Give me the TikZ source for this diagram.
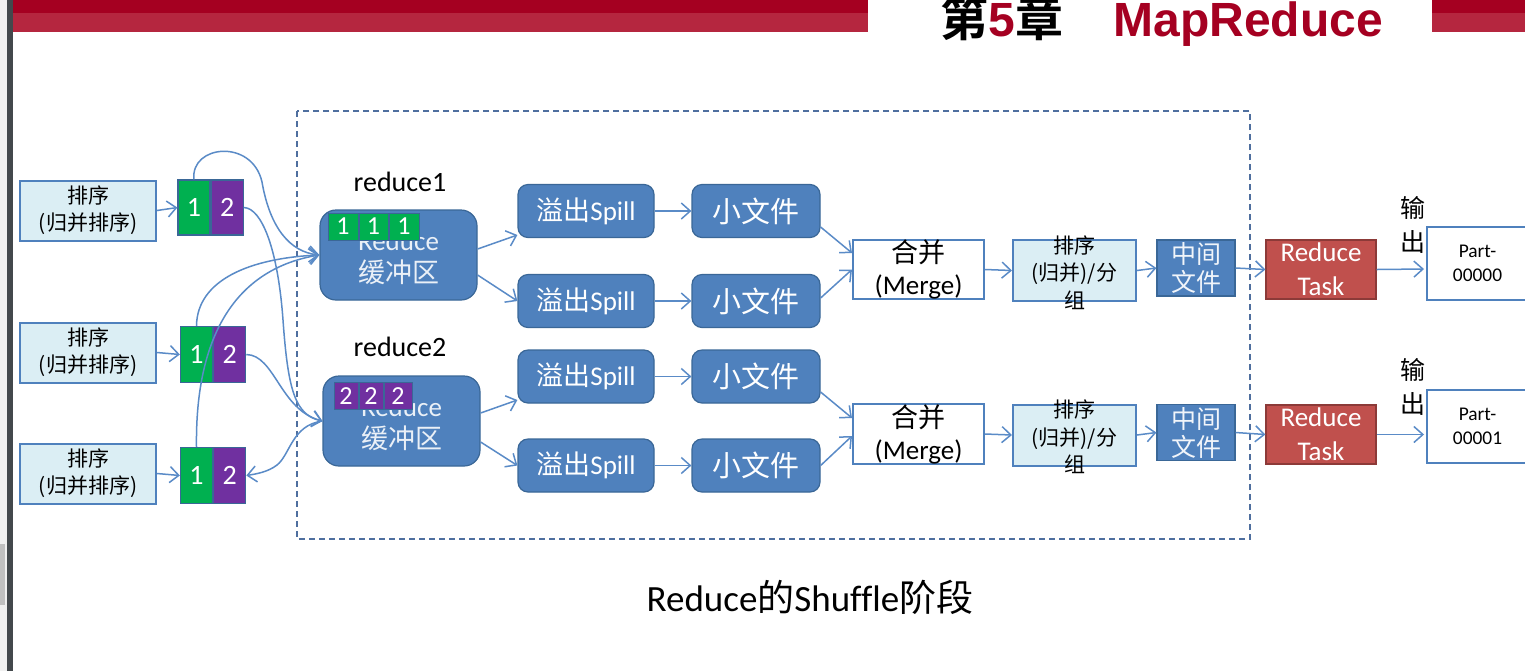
\documentclass[tikz,border=0pt]{standalone}
\usepackage{fontspec}
\setmainfont{Carlito}[Ligatures={NoCommon}]
\newfontfamily\cj{Noto Sans CJK SC}
\newfontfamily\cjb{Noto Sans CJK SC Bold}
\newfontfamily\arialb{Liberation Sans Bold}
\usetikzlibrary{arrows.meta,calc}
\definecolor{dblue}{HTML}{4F81BD}
\definecolor{dbord}{HTML}{3A6797}
\definecolor{lblue}{HTML}{DBEEF4}
\definecolor{arr}{HTML}{5A8BC7}
\definecolor{pgreen}{HTML}{00B050}
\definecolor{ppurple}{HTML}{7030A0}
\definecolor{rtred}{HTML}{C0504D}
\definecolor{rtbord}{HTML}{8C3A38}
\definecolor{bara}{HTML}{A50021}
\definecolor{barb}{HTML}{B5263F}
\definecolor{edgedark}{HTML}{43484C}
\definecolor{edgelight}{HTML}{F0F0F0}
\definecolor{edgegray}{HTML}{C0C0C0}
\definecolor{dashc}{HTML}{4F6F9F}
\tikzset{
  sortbox/.style={draw=dblue, line width=1pt, fill=lblue, minimum width=68pt, minimum height=30pt, inner sep=0pt, align=center, font=\cj\fontsize{10.5}{13.5}\selectfont},
  cell/.style={draw=dbord, line width=0.6pt, minimum width=16pt, minimum height=28pt, inner sep=0pt, text=white, font=\fontsize{14}{16}\selectfont},
  buf/.style={draw=dbord, line width=0.6pt, fill=dblue, rounded corners=8pt, minimum width=78.5pt, minimum height=45pt, inner sep=0pt, align=center, text=white!88!dblue, font=\fontsize{13.5}{16}\selectfont},
  buftext/.style={inner sep=0pt, align=center, text=white!88!dblue, font=\fontsize{13.5}{16}\selectfont},
  mini/.style={draw=dbord, line width=0.5pt, minimum height=13.5pt, inner sep=0pt, text=white, font=\fontsize{13}{14}\selectfont},
  spill/.style={draw=dbord, line width=0.6pt, fill=dblue, rounded corners=5pt, minimum width=68pt, minimum height=26.5pt, inner sep=0pt, text=white, font=\fontsize{13.5}{15}\selectfont},
  sfile/.style={spill, minimum width=64pt, font=\cj\fontsize{14.5}{16}\selectfont},
  mergebox/.style={draw=dblue, line width=1pt, fill=white, minimum width=65.5pt, minimum height=29.5pt, inner sep=0pt, align=center, font=\fontsize{13.5}{16}\selectfont},
  grpbox/.style={draw=dblue, line width=1pt, fill=lblue, minimum width=61.5pt, minimum height=30.5pt, inner sep=0pt},
  grptext/.style={inner sep=0pt, align=center, font=\cj\fontsize{10.5}{13.75}\selectfont},
  midbox/.style={draw=dbord, line width=0.6pt, fill=dblue, minimum width=39pt, minimum height=28pt, inner sep=0pt, align=center, text=white!92!dblue, font=\cj\fontsize{12.5}{14}\selectfont},
  rtask/.style={draw=rtbord, line width=0.6pt, fill=rtred, minimum width=55pt, minimum height=29.5pt, inner sep=0pt, align=center, text=white, font=\fontsize{13.5}{17}\selectfont},
  partbox/.style={draw=dblue, line width=1pt, fill=white, minimum width=50.5pt, minimum height=36.5pt, inner sep=0pt, align=center, font=\fontsize{9.7}{12}\selectfont},
  outlbl/.style={inner sep=0pt, align=center, font=\cj\fontsize{12.5}{17}\selectfont},
  rlabel/.style={inner sep=0pt, font=\fontsize{14}{16}\selectfont},
  conn/.style={draw=arr, line width=0.75pt, -{Straight Barb[length=4.5pt,width=8pt]}}
}
\begin{document}
\begin{tikzpicture}[x=0.5pt,y=-0.5pt]
\useasboundingbox (0,0) rectangle (1525,671);
\fill[white] (0,0) rectangle (1525,671);
% left edge
\fill[edgelight] (0,0) rectangle (7,671);
\fill[edgedark] (7,0) rectangle (13,671);
\fill[edgegray] (0,544) rectangle (5,605);
% top bars
\fill[bara] (13,0) rectangle (868,13);
\fill[barb] (13,13) rectangle (868,32);
\fill[bara] (1432,0) rectangle (1525,13);
\fill[barb] (1432,13) rectangle (1525,32);
% title
\node[anchor=base west, inner sep=0pt, font=\fontsize{24}{26}\selectfont] (title) at (940,36)
  {{\cjb 第}{\color{bara}\arialb 5}{\cjb 章}};
\node[anchor=base west, inner sep=0pt, text=bara, font=\arialb\fontsize{24}{26}\selectfont] (title2) at (1113,36) {MapReduce};
% dashed frame
\draw[dashc, line width=0.75pt, dash pattern=on 3pt off 2pt] (297,111) rectangle (1250,539);
% sort boxes
\node[sortbox] (s1) at (88,210.5) {排序\\(归并排序)};
\node[sortbox] (s2) at (88,352.5) {排序\\(归并排序)};
\node[sortbox] (s3) at (88,473.5) {排序\\(归并排序)};
% partitions
\node[cell, fill=pgreen, minimum height=27.5pt] (p1g) at (194,207.5) {1};
\node[cell, fill=ppurple, minimum height=27.5pt, anchor=west] (p1p) at (p1g.east) {2};
\node[cell, fill=pgreen] (p2g) at (196.5,354.5) {1};
\node[cell, fill=ppurple, anchor=west] (p2p) at (p2g.east) {2};
\node[cell, fill=pgreen] (p3g) at (196.5,475.5) {1};
\node[cell, fill=ppurple, anchor=west] (p3p) at (p3g.east) {2};
\draw[conn] (s1.east) -- (p1g.west);
\draw[conn] (s2.east) -- (p2g.west);
\draw[conn] (s3.east) -- (p3g.west);
% buffers
\node[rlabel] (r1) at (400,182) {reduce1};
\node[rlabel] (r2) at (400,347) {reduce2};
\node[buf] (b1) at (398.5,255) {};
\node[buftext] (bt1) at (398.5,258) {Reduce\\{\cj 缓冲区}};
\node[buf] (b2) at (401.5,421) {};
\node[buftext] (bt2) at (401.5,424) {Reduce\\{\cj 缓冲区}};
\node[mini, fill=pgreen, minimum width=15pt] (g1) at (343,226.5) {1};
\node[mini, fill=pgreen, minimum width=14.5pt, anchor=west] (g2) at (g1.east) {1};
\node[mini, fill=pgreen, minimum width=15pt, anchor=west] (g3) at (g2.east) {1};
\node[mini, fill=ppurple, minimum width=12pt] (q1) at (346,396) {2};
\node[mini, fill=ppurple, minimum width=12pt, anchor=west] (q2) at (q1.east) {2};
\node[mini, fill=ppurple, minimum width=14pt, anchor=west] (q3) at (q2.east) {2};
% curves from partitions to buffers
\draw[conn] (p1g.north) .. controls (190,145) and (252,138) .. (262,182) .. controls (270,228) and (290,252) .. (b1.west);
\draw[conn] (p1p.east) .. controls (262,208) and (278,250) .. (283,320) .. controls (288,390) and (295,415) .. (b2.west);
\draw[conn] (p2g.north) .. controls (197,280) and (250,258) .. (b1.west);
\draw[conn] (p3g.north) .. controls (195,330) and (240,268) .. (b1.west);
\draw[conn] (p2p.east) .. controls (275,355) and (280,410) .. (b2.west);
\draw[conn] (b2.west) .. controls (292,425) and (290,455) .. (277,465) .. controls (268,472) and (256,474) .. (p3p.east);
% spills and small files
\node[spill] (sp1) at (586,211) {{\cj 溢出}Spill};
\node[spill] (sp2) at (586,301) {{\cj 溢出}Spill};
\node[spill] (sp3) at (586,376.5) {{\cj 溢出}Spill};
\node[spill] (sp4) at (586,465.5) {{\cj 溢出}Spill};
\node[sfile] (f1) at (756,211) {小文件};
\node[sfile] (f2) at (756,301) {小文件};
\node[sfile] (f3) at (756,376.5) {小文件};
\node[sfile] (f4) at (756,465.5) {小文件};
\draw[conn] ($(b1.east)+(0,-6)$) -- ($(sp1.west)+(0,24)$);
\draw[conn] ($(b1.east)+(0,20)$) -- (sp2.west);
\draw[conn] ($(b2.east)+(0,-8)$) -- ($(sp3.west)+(0,23.5)$);
\draw[conn] ($(b2.east)+(0,21)$) -- (sp4.west);
\draw[conn] (sp1.east) -- (f1.west);
\draw[conn] (sp2.east) -- (f2.west);
\draw[conn] (sp3.east) -- (f3.west);
\draw[conn] (sp4.east) -- (f4.west);
% merge
\node[mergebox] (m1) at (918.5,269.5) {{\cj 合并}\\(Merge)};
\node[mergebox] (m2) at (918.5,434) {{\cj 合并}\\(Merge)};
\draw[conn] ($(f1.east)+(0,16)$) -- ($(m1.west)+(0,-16.5)$);
\draw[conn] ($(f2.east)+(0,-3)$) -- (m1.west);
\draw[conn] ($(f3.east)+(0,15.5)$) -- ($(m2.west)+(0,-16)$);
\draw[conn] (f4.east) -- ($(m2.west)+(0,2)$);
% sort/group
\node[grpbox] (gb1) at (1074.5,270.5) {};
\node[grptext] (gt1) at (1074.5,272.5) {排序\\(归并)/分\\组};
\node[grpbox] (gb2) at (1074.5,435) {};
\node[grptext] (gt2) at (1074.5,437) {排序\\(归并)/分\\组};
% middle files
\node[midbox] (mf1) at (1196,268) {中间\\文件};
\node[midbox] (mf2) at (1196,432.5) {中间\\文件};
% reduce tasks
\node[rtask] (rt1) at (1321,269.5) {Reduce\\Task};
\node[rtask] (rt2) at (1321,434.5) {Reduce\\Task};
% outputs
\node[partbox] (pt1) at (1477.5,263.5) {Part-\\00000};
\node[partbox] (pt2) at (1477.5,426.5) {Part-\\00001};
\node[outlbl] (o1) at (1413,225) {输\\出};
\node[outlbl] (o2) at (1413,387) {输\\出};
\draw[conn] (m1.east) -- (gb1.west);
\draw[conn] (m2.east) -- (gb2.west);
\draw[conn] (gb1.east) -- (mf1.west);
\draw[conn] (gb2.east) -- (mf2.west);
\draw[conn] (mf1.east) -- (rt1.west);
\draw[conn] (mf2.east) -- (rt2.west);
\draw[conn] (rt1.east) -- ($(pt1.west)+(-2,5.5)$);
\draw[conn] (rt2.east) -- ($(pt2.west)+(-2,8)$);
% caption
\node[inner sep=0pt, font=\fontsize{18.5}{21}\selectfont] (cap) at (810,597) {Reduce{\cj 的}Shuffle{\cj 阶段}};
\end{tikzpicture}
\end{document}
